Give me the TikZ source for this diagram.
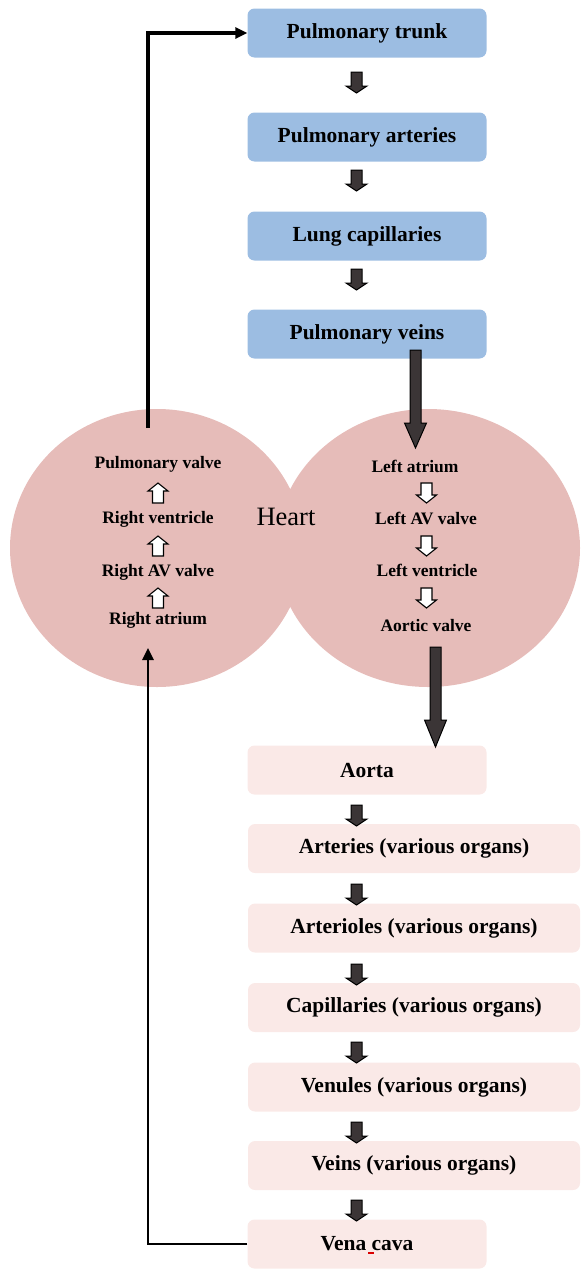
\documentclass[tikz,border=0pt]{standalone}
\usepackage{fontspec}
\setmainfont{Liberation Serif}
\usetikzlibrary{arrows.meta}

\definecolor{lungblue}{RGB}{156,189,226}
\definecolor{bodypink}{RGB}{250,233,231}
\definecolor{heartpink}{RGB}{230,188,185}
\definecolor{arrowdark}{RGB}{59,53,54}

\tikzset{
  % block arrow pointing down from its origin: shaft width, head width, head length, total length
  pics/blockdown/.style n args={4}{code={
    \filldraw (-#1/2,0) -- (#1/2,0) -- (#1/2,#4-#3) -- (#2/2,#4-#3) -- (0,#4)
      -- (-#2/2,#4-#3) -- (-#1/2,#4-#3) -- cycle;
  }},
  darkarrow/.style={fill=arrowdark, draw=black, line width=1pt, line join=miter},
  hollowarrow/.style={fill=white, draw=black, line width=1.1pt, line join=miter},
  boxbase/.style={rounded corners=7pt, inner sep=0pt, minimum height=49pt,
    font=\fontsize{21.5}{24}\selectfont\bfseries},
  lungbox/.style={boxbase, fill=lungblue, minimum width=239pt},
  bodybox/.style={boxbase, fill=bodypink, minimum width=239pt},
  widebox/.style={boxbase, fill=bodypink, minimum width=332pt},
  chamber/.style={inner sep=0pt, font=\fontsize{17.5}{20}\selectfont\bfseries},
  conn/.style={draw=black, -{Triangle[length=12pt,width=11pt]}},
}

\begin{document}
\begin{tikzpicture}[x=1pt,y=-1pt]
  \useasboundingbox (0,0) rectangle (581,1269);

  % the heart as two overlapping lobes
  \fill[heartpink] (157,548) ellipse [x radius=147, y radius=139];
  \fill[heartpink] (428,548) ellipse [x radius=152, y radius=139];
  \node[font=\fontsize{26.5}{30}\selectfont] (heart) at (286,517) {Heart};

  % right side of the heart, read bottom to top
  \node[chamber] (pvalve) at (158,464) {Pulmonary valve};
  \node[chamber] (rvent)  at (158,519) {Right ventricle};
  \node[chamber] (ravv)   at (158,572) {Right AV valve};
  \node[chamber] (ratr)   at (158,620) {Right atrium};
  \pic[hollowarrow, rotate=180] at (158,503) {blockdown={11}{20}{8}{20}};
  \pic[hollowarrow, rotate=180] at (158,556) {blockdown={11}{20}{8}{20}};
  \pic[hollowarrow, rotate=180] at (158,608) {blockdown={11}{20}{8}{20}};

  % left side of the heart, read top to bottom
  \node[chamber] (latr)   at (415,466) {Left atrium};
  \node[chamber] (lavv)   at (426,518) {Left AV valve};
  \node[chamber] (lvent)  at (427,570) {Left ventricle};
  \node[chamber] (avalve) at (426,626) {Aortic valve};
  \pic[hollowarrow] at (426.5,483) {blockdown={11}{20}{8}{20}};
  \pic[hollowarrow] at (426.5,536) {blockdown={11}{20}{8}{20}};
  \pic[hollowarrow] at (426.5,588) {blockdown={11}{20}{8}{20}};

  % pulmonary circuit
  \node[lungbox] (ptrunk) at (367,33)  {Pulmonary trunk};
  \node[lungbox] (part)   at (367,137) {Pulmonary arteries};
  \node[lungbox] (lcap)   at (367,236) {Lung capillaries};
  \node[lungbox] (pvein)  at (367,334) {Pulmonary veins};
  \pic[darkarrow] at (356.5,72)  {blockdown={11}{21}{7}{21}};
  \pic[darkarrow] at (356.5,170) {blockdown={11}{21}{7}{21}};
  \pic[darkarrow] at (356.5,269) {blockdown={11}{21}{7}{21}};

  % systemic circuit
  \node[bodybox] (aorta) at (367,770)    {Aorta};
  \node[widebox] (art)   at (414,848.5)  {Arteries (various organs)};
  \node[widebox] (artl)  at (414,928)    {Arterioles (various organs)};
  \node[widebox] (cap)   at (414,1007.5) {Capillaries (various organs)};
  \node[widebox] (venl)  at (414,1087)   {Venules (various organs)};
  \node[widebox] (vein)  at (414,1165.5) {Veins (various organs)};
  \node[bodybox] (vcava) at (367,1244)   {Vena cava};
  \fill[red!85!black] (368,1252) rectangle (374,1254.2);
  \pic[darkarrow] at (356.5,805)  {blockdown={11}{21}{7}{21}};
  \pic[darkarrow] at (356.5,884)  {blockdown={11}{21}{7}{21}};
  \pic[darkarrow] at (356.5,964)  {blockdown={11}{21}{7}{21}};
  \pic[darkarrow] at (356.5,1042) {blockdown={11}{21}{7}{21}};
  \pic[darkarrow] at (356.5,1122) {blockdown={11}{21}{7}{21}};
  \pic[darkarrow] at (356.5,1200) {blockdown={11}{21}{7}{21}};

  % large arrows into and out of the heart
  \pic[darkarrow] at (415.5,350) {blockdown={11}{22}{25}{98}};
  \pic[darkarrow] at (435.5,647) {blockdown={11}{22}{27}{100}};

  % return lines around the heart
  \coordinate (rout) at (148,428);
  \coordinate (rin)  at (148,648);
  \draw[conn, line width=3.2pt] (rout) |- (ptrunk.west);
  \draw[conn, line width=2.6pt] (vcava.west) -| (rin);
\end{tikzpicture}
\end{document}
